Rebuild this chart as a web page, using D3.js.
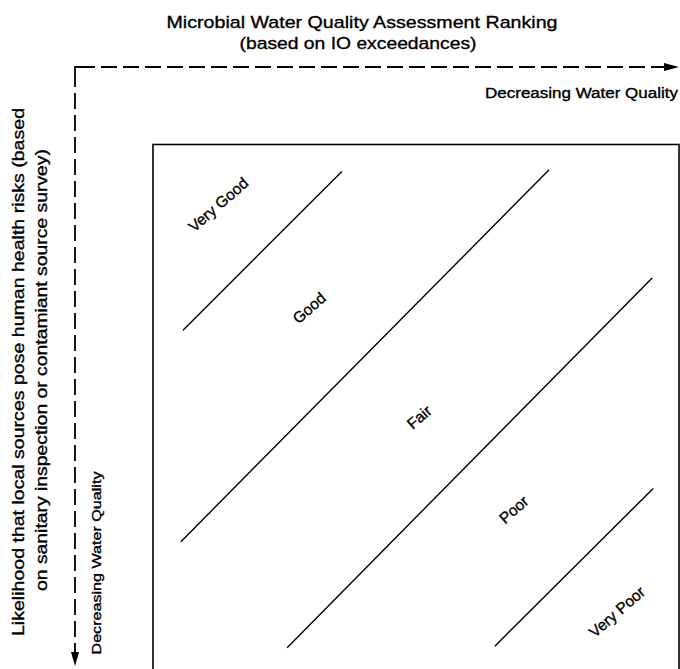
<!DOCTYPE html>
<html><head><meta charset="utf-8">
<script src="https://cdn.jsdelivr.net/npm/d3@7"></script>
<style>html,body{margin:0;padding:0;background:#fff;}svg{display:block;}text{font-family:"Liberation Sans",Arial,sans-serif;fill:#000;stroke:#000;stroke-width:0.35px;}</style>
</head><body><div id="chart"></div>
<script>
// Ranking categories (zones between boundary lines), positions on 0-100 grid
const categories = ["Very Good", "Good", "Fair", "Poor", "Very Poor"];
const labelX = [12.4, 29.7, 50.6, 68.6, 88.2];
const labelY = [11.4, 31.0, 51.7, 69.2, 88.6];
// Boundary lines between zones: [x1, y1, x2, y2] on 0-100 grid
const boundaryX1 = [5.7, 5.3, 25.5, 65.0];
const boundaryY1 = [35.2, 75.3, 95.4, 95.1];
const boundaryX2 = [35.9, 75.3, 94.9, 95.1];
const boundaryY2 = [5.1, 4.8, 25.3, 65.2];
const titleLines = ["Microbial Water Quality Assessment Ranking", "(based on IO exceedances)"];
const yTitleLines = ["Likelihood that local sources pose human health risks (based", "on sanitary inspection or contamiant source survey)"];
const axisNote = "Decreasing Water Quality";

const W = 680, H = 669;
const svg = d3.select("#chart").append("svg").attr("width", W).attr("height", H);
const box = {x0: 153, x1: 679, y0: 144.5, y1: 672};
const x = d3.scaleLinear().domain([0, 100]).range([box.x0, box.x1]);
const y = d3.scaleLinear().domain([0, 100]).range([box.y0, box.y1]);

// frame
svg.append("rect").attr("x", box.x0).attr("y", box.y0)
  .attr("width", box.x1 - box.x0).attr("height", box.y1 - box.y0)
  .attr("fill", "none").attr("stroke", "#000").attr("stroke-width", 1.6);

// boundary lines
svg.append("g").selectAll("line").data(d3.range(boundaryX1.length)).join("line")
  .attr("x1", i => x(boundaryX1[i])).attr("y1", i => y(boundaryY1[i]))
  .attr("x2", i => x(boundaryX2[i])).attr("y2", i => y(boundaryY2[i]))
  .attr("stroke", "#000").attr("stroke-width", 1.4);

// zone labels
svg.append("g").selectAll("text").data(categories).join("text")
  .attr("transform", (d, i) => `translate(${x(labelX[i])},${y(labelY[i])}) rotate(-41)`)
  .attr("text-anchor", "middle").attr("dy", "0.35em")
  .attr("font-size", 15.5).text(d => d);

// titles
const tl = [{t: titleLines[0], cx: 362, by: 28, len: 391, fs: 17},
            {t: titleLines[1], cx: 358, by: 49, len: 237, fs: 17}];
tl.forEach(d => svg.append("text").attr("x", d.cx).attr("y", d.by)
  .attr("text-anchor", "middle").attr("font-size", d.fs)
  .attr("textLength", d.len).attr("lengthAdjust", "spacingAndGlyphs").text(d.t));

svg.append("text").attr("x", 485).attr("y", 98).attr("font-size", 14)
  .attr("textLength", 193).attr("lengthAdjust", "spacingAndGlyphs").text(axisNote);

// left rotated titles
const yl = [{t: yTitleLines[0], bx: 24, cy: 372, len: 528, fs: 17},
            {t: yTitleLines[1], bx: 47, cy: 370, len: 442, fs: 17},
            {t: axisNote, bx: 101, cy: 563, len: 183, fs: 13}];
yl.forEach(d => svg.append("text")
  .attr("transform", `translate(${d.bx},${d.cy}) rotate(-90)`)
  .attr("text-anchor", "middle").attr("font-size", d.fs)
  .attr("textLength", d.len).attr("lengthAdjust", "spacingAndGlyphs").text(d.t));

// dashed arrows
const ax = 75, ay = 67;
svg.append("path").attr("d", `M${ax},${ay + 20} V${ay} H${ax + 20}`)
  .attr("fill", "none").attr("stroke", "#000").attr("stroke-width", 1.8);
svg.append("line").attr("x1", ax + 26).attr("y1", ay).attr("x2", 664).attr("y2", ay)
  .attr("stroke", "#000").attr("stroke-width", 1.8).attr("stroke-dasharray", "16,6");
svg.append("line").attr("x1", ax).attr("y1", ay + 26).attr("x2", ax).attr("y2", 652)
  .attr("stroke", "#000").attr("stroke-width", 1.8).attr("stroke-dasharray", "16,6");
svg.append("path").attr("d", `M664,${ay - 4} L679,${ay} L664,${ay + 4} Z`).attr("fill", "#000");
svg.append("path").attr("d", `M${ax - 4},652 L${ax},666 L${ax + 4},652 Z`).attr("fill", "#000");
</script></body></html>
